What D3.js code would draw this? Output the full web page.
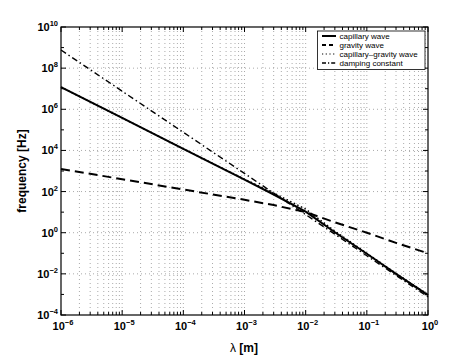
<!DOCTYPE html>
<html><head><meta charset="utf-8">
<script src="https://cdn.jsdelivr.net/npm/d3@7"></script>
<style>body{margin:0;background:#fff}svg{display:block}text{font-family:"Liberation Sans",Arial,Helvetica,sans-serif}</style>
</head><body><div id="chart"></div>
<script>
// wavelengths [m]
const lambdaCap = [1e-6,1e-5,1e-4,1e-3,3e-3,1e-2,3e-2,1e-1,3e-1,1];
const capillaryWave = [1.2e7,3.8e5,1.2e4,380,72,10.5,1.05,0.095,0.01,9.3e-4];
const lambdaGrav = [1e-6,1e-5,1e-4,1e-3,3e-3,1e-2,3e-2,1e-1,3e-1,1];
const gravityWave = [1260,400,126,40,22,10,3.2,1.0,0.32,0.1];
const lambdaCG = [1e-6,1e-5,1e-4,1e-3,3e-3,1e-2,3e-2,1e-1,3e-1,1];
const capGravWave = [1.2e7,3.8e5,1.2e4,400,85,14,1.2,0.1,0.0105,9.8e-4];
const lambdaDamp = [1e-6,1e-5,1e-4,1e-3,1e-2,1e-1,1];
const dampingConst = [7.6e8,7.6e6,7.6e4,760,7.6,0.076,7.6e-4];
const xTickExp = [-6,-5,-4,-3,-2,-1,0];
const yTickExp = [-4,-2,0,2,4,6,8,10];
const legendLabels = ["capillary wave","gravity wave","capillary\u2013gravity wave","damping constant"];

const W=474,H=355, L=61,R=428,T=27,B=315;
const svg=d3.select("#chart").append("svg").attr("width",W).attr("height",H);
const x=d3.scaleLog().domain([1e-6,1]).range([L,R]);
const y=d3.scaleLog().domain([1e-4,1e10]).range([B,T]);

// grid
const g=svg.append("g");
const minorX=[];
for(let e=-6;e<0;e++){for(let m=1;m<10;m++){minorX.push(m*Math.pow(10,e));}}
minorX.push(1);
g.selectAll("line.vx").data(minorX.filter(v=>v>1e-6&&v<1)).join("line")
 .attr("x1",d=>x(d)).attr("x2",d=>x(d)).attr("y1",T).attr("y2",B)
 .attr("stroke","#aaa").attr("stroke-width",1).attr("stroke-dasharray","1,3");
g.selectAll("line.hy").data(yTickExp.slice(1,-1)).join("line")
 .attr("x1",L).attr("x2",R).attr("y1",d=>y(Math.pow(10,d))).attr("y2",d=>y(Math.pow(10,d)))
 .attr("stroke","#aaa").attr("stroke-width",1).attr("stroke-dasharray","1,3");

// ticks inside, both sides
const tk=svg.append("g").attr("stroke","#000").attr("stroke-width",1);
minorX.forEach(v=>{
  const major=Math.abs(Math.log10(v)-Math.round(Math.log10(v)))<1e-9;
  const len=major?5:3;
  tk.append("line").attr("x1",x(v)).attr("x2",x(v)).attr("y1",B).attr("y2",B-len);
  tk.append("line").attr("x1",x(v)).attr("x2",x(v)).attr("y1",T).attr("y2",T+len);
});
for(let e=-4;e<=10;e++){
  const len=(e%2===0)?5:3;
  const yy=y(Math.pow(10,e));
  tk.append("line").attr("x1",L).attr("x2",L+len).attr("y1",yy).attr("y2",yy);
  tk.append("line").attr("x1",R).attr("x2",R-len).attr("y1",yy).attr("y2",yy);
}

// lines
const line=d3.line().x(d=>x(d[0])).y(d=>y(d[1]));
const plot=svg.append("g");
plot.append("path").datum(d3.zip(lambdaDamp,dampingConst)).attr("d",line)
 .attr("fill","none").attr("stroke","#000").attr("stroke-width",1.4).attr("stroke-dasharray","6,3,1.5,3");
plot.append("path").datum(d3.zip(lambdaGrav,gravityWave)).attr("d",line)
 .attr("fill","none").attr("stroke","#000").attr("stroke-width",2).attr("stroke-dasharray","9,5");
plot.append("path").datum(d3.zip(lambdaCap,capillaryWave)).attr("d",line)
 .attr("fill","none").attr("stroke","#000").attr("stroke-width",2);
plot.append("path").datum(d3.zip(lambdaCG,capGravWave)).attr("d",line)
 .attr("fill","none").attr("stroke","#000").attr("stroke-width",1.5).attr("stroke-dasharray","1.5,2.5");

// box
svg.append("rect").attr("x",L).attr("y",T).attr("width",R-L).attr("height",B-T)
 .attr("fill","none").attr("stroke","#000").attr("stroke-width",1.2);

// tick labels
function powLabel(sel,exp,anchor){
  const t=sel.append("text").attr("font-weight","bold").attr("font-size",11).attr("text-anchor",anchor);
  t.append("tspan").text("10");
  t.append("tspan").attr("dy",-5).attr("font-size",7.5).text(exp<0?"\u2212"+(-exp):String(exp));
  return t;
}
xTickExp.forEach(e=>{
  const t=powLabel(svg,e,"middle");
  t.attr("x",x(Math.pow(10,e))+2).attr("y",330);
});
yTickExp.forEach(e=>{
  const t=powLabel(svg,e,"end");
  t.attr("x",58).attr("y",y(Math.pow(10,e))+4);
});

// axis labels
const xl=svg.append("text").attr("x",244).attr("y",352).attr("text-anchor","middle").attr("font-size",12);
xl.append("tspan").text("\u03bb  ");
xl.append("tspan").attr("font-weight","bold").text("[m]");
svg.append("text").attr("transform","translate(26,171) rotate(-90)").attr("text-anchor","middle")
 .attr("font-size",12).attr("font-weight","bold").text("frequency [Hz]");

// legend
const lg=svg.append("g");
lg.append("rect").attr("x",317.5).attr("y",31).attr("width",107.5).attr("height",38.5)
 .attr("fill","#fff").attr("stroke","#000").attr("stroke-width",0.8);
const styles=[{w:2,d:null},{w:2,d:"4,3"},{w:1.2,d:"1.2,2.5"},{w:1.4,d:"4,2,1.2,2"}];
legendLabels.forEach((lab,i)=>{
  const yy=36+i*9;
  const ln=lg.append("line").attr("x1",322).attr("x2",336).attr("y1",yy).attr("y2",yy)
    .attr("stroke","#000").attr("stroke-width",styles[i].w);
  if(styles[i].d) ln.attr("stroke-dasharray",styles[i].d);
  lg.append("text").attr("x",339.5).attr("y",yy+3).attr("font-size",8).text(lab);
});
</script></body></html>
